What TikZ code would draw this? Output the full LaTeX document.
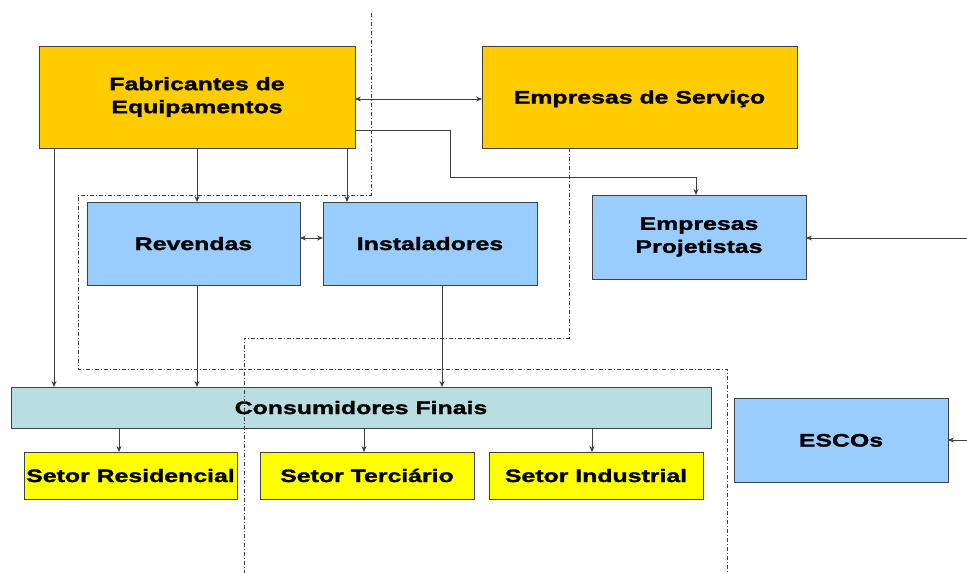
\documentclass[tikz,border=0pt]{standalone}
\usepackage{fontspec}
\setmainfont[FakeStretch=1.38, BoldFeatures={FakeBold=1.6}]{Liberation Sans}
\usepackage{tikz}
\usepackage{xcolor}
\usetikzlibrary{arrows.meta, positioning}

\definecolor{ouro}{HTML}{FFCC00}
\definecolor{azul}{HTML}{99CCFF}
\definecolor{turq}{HTML}{B8DEE1}
\definecolor{amar}{HTML}{FFFF00}
\definecolor{linha}{HTML}{404040}

\begin{document}
\begin{tikzpicture}[x=1pt, y=-1pt, >={Stealth[length=6pt, width=5pt]},
    box/.style={draw=linha, line width=0.8pt, inner sep=0pt, outer sep=0pt, align=center,
        font=\bfseries\fontsize{18}{23}\selectfont},
    um/.style={text height=15pt, text depth=2pt},
    lig/.style={draw=linha, line width=0.7pt},
    fronteira/.style={draw=linha, line width=0.8pt, dash pattern=on 4pt off 2pt on 1pt off 2pt}]
                        \useasboundingbox (0, 0) rectangle (967, 573);

                        % linha tracejada de tras
                        \draw[fronteira] (371, 13) -- (371, 195) -- (78, 195) -- (78, 369) -- (727, 369) -- (727, 573);

                        \node[box, fill=ouro, minimum width=316pt, minimum height=102pt] (fde) at (197, 97) {Fabricantes de\\Equipamentos};
                        \node[box, um, fill=ouro, minimum width=315pt, minimum height=102pt] (eds) at (639.5, 97) {Empresas de Serviço};

                        \node[box, um, fill=azul, minimum width=213pt, minimum height=83pt] (rev) at (193.5, 243.5) {Revendas};
                        \node[box, um, fill=azul, minimum width=214pt, minimum height=83pt] (ins) at (430, 243.5) {Instaladores};
                        \node[box, fill=azul, minimum width=214pt, minimum height=84pt] (ep) at (699, 237) {Empresas\\Projetistas};

                        \node[box, um, fill=turq, minimum width=700pt, minimum height=41pt] (cf) at (361, 407.5) {Consumidores Finais};

                        \node[box, um, fill=amar, minimum width=213pt, minimum height=47pt] (sr) at (130.5, 475.5) {Setor Residencial};
                        \node[box, um, fill=amar, minimum width=214pt, minimum height=47pt] (st) at (367, 475.5) {Setor Terciário};
                        \node[box, um, fill=amar, minimum width=214pt, minimum height=47pt] (si) at (596, 475.5) {Setor Industrial};

                        \node[box, um, fill=azul, minimum width=214pt, minimum height=84pt] (esc) at (841, 440) {ESCOs};

                        \coordinate (epin) at (967, 238);
                        \coordinate (escin) at (967, 440);

                        \draw[lig]
                        ([yshift=-2pt]fde.east) edge[<->] ([yshift=-2pt]eds.west)
                        (fde.south) edge[->] (fde.south |- rev.north)
                        ([xshift=150pt]fde.south) edge[->] ([xshift=150pt]fde.south |- ins.north)
                        ([xshift=-143pt]fde.south) edge[->] ([xshift=-143pt]fde.south |- cf.north)

                        ([yshift=5.5pt]rev.east) edge[<->] ([yshift=5.5pt]ins.west)
                        (fde.south |- rev.south) edge[->] (fde.south |- cf.north)
                        ([xshift=12pt]ins.south) edge[->] ([xshift=12pt]ins.south |- cf.north)

                        ([xshift=-11.5pt]sr.north |- cf.south) edge[->] ([xshift=-11.5pt]sr.north)
                        ([xshift=-3pt]st.north |- cf.south) edge[->] ([xshift=-3pt]st.north)
                        ([xshift=-4pt]si.north |- cf.south) edge[->] ([xshift=-4pt]si.north)

                        (epin) edge[->] (ep.east |- epin)
                        (escin) edge[->] (esc.east);

                        \draw[lig, ->] ([yshift=-33pt]fde.east) -| (450, 177) -| ([xshift=-3pt]ep.north);

                        % linha tracejada da frente
                        \draw[fronteira] (eds.south -| 569, 0) -- (569, 338) -- (244, 338) -- (244, 573);
                    \end{tikzpicture}
\end{document}
